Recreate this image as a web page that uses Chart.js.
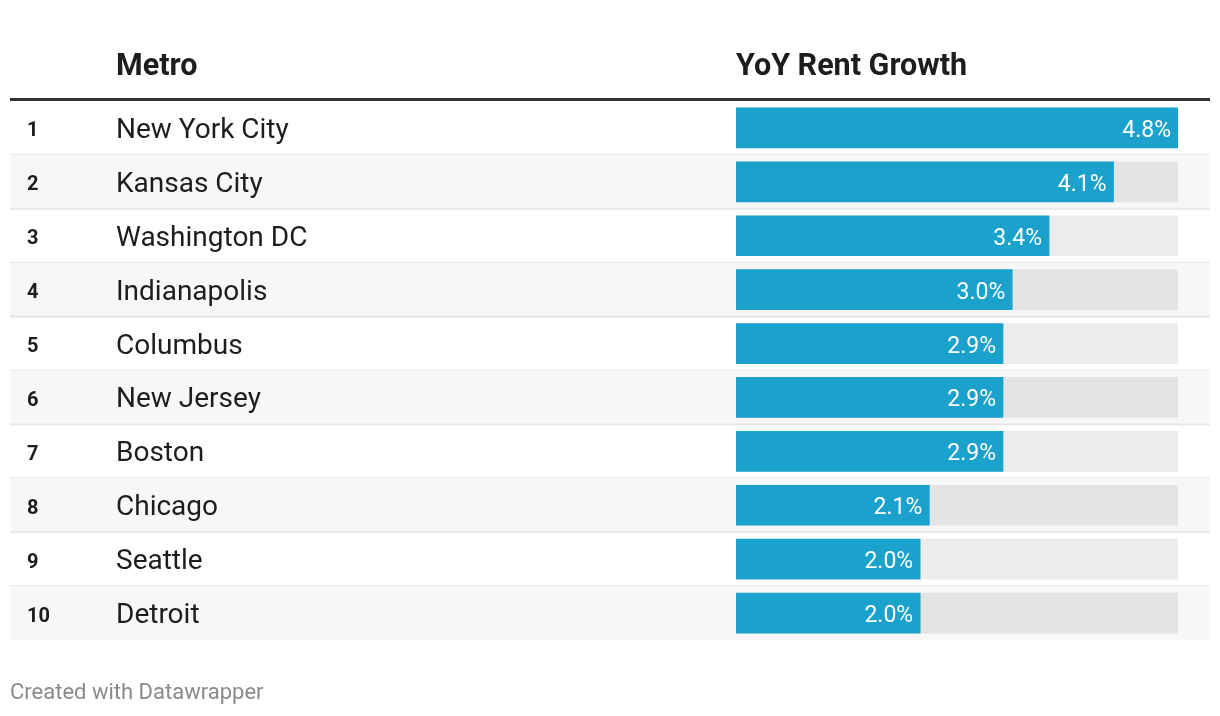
<!DOCTYPE html>
<html>
<head>
<meta charset="utf-8">
<script src="https://cdn.jsdelivr.net/npm/chart.js@4.4.1/dist/chart.umd.min.js"></script>
<style>
html,body{margin:0;padding:0;background:#fff;}
#wrap{width:1220px;height:716px;position:relative;}
canvas{display:block;}
</style>
</head>
<body>
<div id="wrap"><canvas id="c" width="1220" height="716"></canvas></div>
<script>
const ranks = ['1','2','3','4','5','6','7','8','9','10'];
const metros = ['New York City','Kansas City','Washington DC','Indianapolis','Columbus','New Jersey','Boston','Chicago','Seattle','Detroit'];
const rentGrowth = [4.8, 4.1, 3.4, 3.0, 2.9, 2.9, 2.9, 2.1, 2.0, 2.0];
const scaleMax = 4.8;
const headers = ['Metro', 'YoY Rent Growth'];
const footerText = 'Created with Datawrapper';

const FONT = 'Roboto, "Liberation Sans", sans-serif';

const tablePlugin = {
  id: 'tablePlugin',
  beforeDatasetsDraw(chart) {
    const ctx = chart.ctx;
    const y = chart.scales.y;
    const area = chart.chartArea;
    const band = y.getPixelForValue(1) - y.getPixelForValue(0);
    ctx.save();
    for (let i = 0; i < metros.length; i++) {
      const cy = y.getPixelForValue(i);
      const top = cy - band / 2;
      if (i % 2 === 1) {
        ctx.fillStyle = '#f7f7f7';
        ctx.fillRect(10, top, 1200, band);
      }
      if (i < metros.length - 1) {
        ctx.fillStyle = '#e6e6e6';
        ctx.fillRect(10, top + band - 1, 1200, 2);
      }
    }
    // header rule
    ctx.fillStyle = '#333333';
    ctx.fillRect(10, area.top - 3, 1200, 3);
    // header labels
    ctx.fillStyle = '#1d1d1d';
    ctx.font = 'bold 30.5px ' + FONT;
    ctx.textBaseline = 'alphabetic';
    ctx.textAlign = 'left';
    ctx.fillText(headers[0], 116, 75);
    ctx.fillText(headers[1], area.left, 75);
    // footer
    ctx.fillStyle = '#8a8a8a';
    ctx.font = '22px ' + FONT;
    ctx.fillText(footerText, 10, 699);
    ctx.restore();
  },
  afterDatasetsDraw(chart) {
    const ctx = chart.ctx;
    const y = chart.scales.y;
    const x = chart.scales.x;
    ctx.save();
    ctx.textBaseline = 'alphabetic';
    for (let i = 0; i < metros.length; i++) {
      const cy = y.getPixelForValue(i);
      ctx.fillStyle = '#1d1d1d';
      ctx.textAlign = 'left';
      ctx.font = 'bold 20px ' + FONT;
      ctx.fillText(ranks[i], 27, cy + 8.5);
      ctx.font = '28px ' + FONT;
      ctx.fillText(metros[i], 116, cy + 10);
      ctx.fillStyle = '#ffffff';
      ctx.textAlign = 'right';
      ctx.font = '400 23px ' + FONT;
      ctx.fillText(rentGrowth[i].toFixed(1) + '%', x.getPixelForValue(rentGrowth[i]) - 7, cy + 9);
    }
    ctx.restore();
  }
};

new Chart(document.getElementById('c'), {
  type: 'bar',
  data: {
    labels: metros,
    datasets: [
      {
        data: rentGrowth,
        backgroundColor: '#1aa1cc',
        grouped: false,
        barThickness: 40,
        borderWidth: 0
      },
      {
        data: metros.map(() => scaleMax),
        backgroundColor: 'rgba(0,0,0,0.075)',
        grouped: false,
        barThickness: 40,
        borderWidth: 0
      }
    ]
  },
  options: {
    indexAxis: 'y',
    responsive: false,
    animation: false,
    devicePixelRatio: 1,
    layout: { padding: { left: 736, right: 42, top: 101, bottom: 76 } },
    scales: {
      x: { display: false, min: 0, max: scaleMax, stacked: false },
      y: { display: false, type: 'category' }
    },
    plugins: {
      legend: { display: false },
      tooltip: { enabled: false }
    },
    events: []
  },
  plugins: [tablePlugin]
});
</script>
</body>
</html>
